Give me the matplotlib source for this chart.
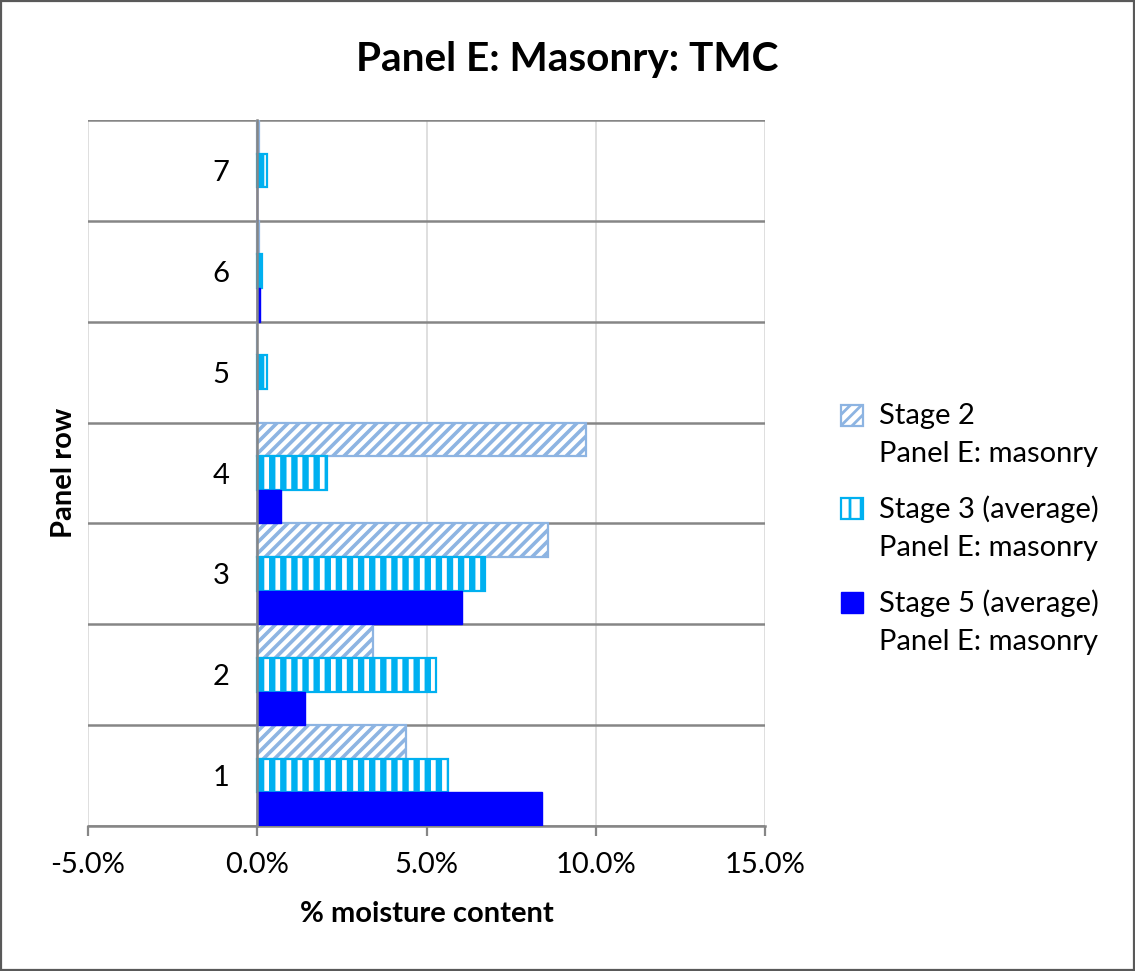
import matplotlib
matplotlib.use("Agg")
import matplotlib.pyplot as plt
import numpy as np
from matplotlib.patches import Rectangle
from matplotlib.legend_handler import HandlerPatch
from matplotlib.ticker import FuncFormatter, MultipleLocator

# values (% moisture content)
rows = [1, 2, 3, 4, 5, 6, 7]
stage2 = [4.40, 3.42, 8.60, 9.72, 0.00, 0.05, 0.05]
stage3 = [5.64, 5.29, 6.74, 2.07, 0.28, 0.15, 0.29]
stage5 = [8.42, 1.41, 6.06, 0.71, 0.00, 0.08, 0.00]
labels = ["Stage 2\nPanel E: masonry",
          "Stage 3 (average)\nPanel E: masonry",
          "Stage 5 (average)\nPanel E: masonry"]

plt.rcParams['font.family'] = ['Lato', 'DejaVu Sans']
plt.rcParams['axes.unicode_minus'] = False

DPI = 200
fig = plt.figure(figsize=(1135 / DPI, 971 / DPI), dpi=DPI)
ax = fig.add_axes([88 / 1135, 1 - 826 / 971, 677 / 1135, 706 / 971])

y = np.array(rows)
h = 1 / 3
b2 = ax.barh(y + h, stage2, height=h, color='white', edgecolor='#8DB4E2',
             hatch='//////', linewidth=0.8, label=labels[0], zorder=3)
b3 = ax.barh(y, stage3, height=h, color='white', edgecolor='#00B0F0',
             hatch='|||', linewidth=0.8, label=labels[1], zorder=3)
b5 = ax.barh(y - h, stage5, height=h, color='#0000FF', edgecolor='#0000FF',
             linewidth=0.5, label=labels[2], zorder=3)
for bars, lw in ((b2, 1.3), (b3, 2.3)):
    for p in bars:
        if hasattr(p, 'set_hatch_linewidth'):
            p.set_hatch_linewidth(lw)

ax.set_xlim(-5, 15)
ax.set_ylim(0.5, 7.5)
ax.xaxis.set_major_locator(MultipleLocator(5))
ax.xaxis.set_major_formatter(FuncFormatter(lambda v, pos: f"{v:.1f}%"))
ax.set_yticks(rows)
ax.set_yticks(np.arange(0.5, 8, 1), minor=True)

ax.grid(axis='x', color='#D9D9D9', linewidth=0.6, zorder=0)
ax.grid(axis='y', which='minor', color='#868686', linewidth=0.9, zorder=1)

for s in ('top', 'right'):
    ax.spines[s].set_visible(False)
ax.spines['left'].set_position(('data', 0))
ax.spines['left'].set_color('#868686')
ax.spines['left'].set_linewidth(0.9)
ax.spines['left'].set_zorder(4)
ax.spines['bottom'].set_color('#868686')
ax.spines['bottom'].set_linewidth(0.9)

ax.tick_params(axis='x', length=3.5, width=0.8, color='#868686', labelsize=10.5, pad=6)
ax.tick_params(axis='y', which='both', length=0, labelsize=10.5, pad=10)

ax.set_xlabel("% moisture content", fontsize=10.5, fontweight='bold', labelpad=8)
ax.set_ylabel("Panel row", fontsize=10.5, fontweight='bold')
ax.yaxis.set_label_coords(-0.016, 0.5)

fig.suptitle("Panel E: Masonry: TMC", x=0.5, y=1 - 60 / 971, va='center',
             fontsize=14.6, fontweight='bold')


class UpHandler(HandlerPatch):
    # put the key square next to the first line of a two-line label
    def create_artists(self, legend, orig_handle, xdescent, ydescent,
                       width, height, fontsize, trans):
        p = Rectangle((-xdescent, -ydescent + 0.68 * fontsize), width, height)
        self.update_prop(p, orig_handle, legend)
        p.set_transform(trans)
        return [p]


leg = fig.legend(handles=[b2[0], b3[0], b5[0]], labels=labels, loc='center left',
                 bbox_to_anchor=(815 / 1135, 1 - 529 / 971), frameon=False,
                 fontsize=10.5, handlelength=0.75, handleheight=0.75,
                 handletextpad=0.55, labelspacing=0.95,
                 handler_map={Rectangle: UpHandler()})
for t in leg.get_texts():
    t.set_linespacing(1.6)

fig.add_artist(Rectangle((0.001, 0.001), 0.998, 0.998, transform=fig.transFigure,
                         fill=False, edgecolor='#595959', linewidth=0.8))

fig.savefig("out.png", dpi=DPI)
